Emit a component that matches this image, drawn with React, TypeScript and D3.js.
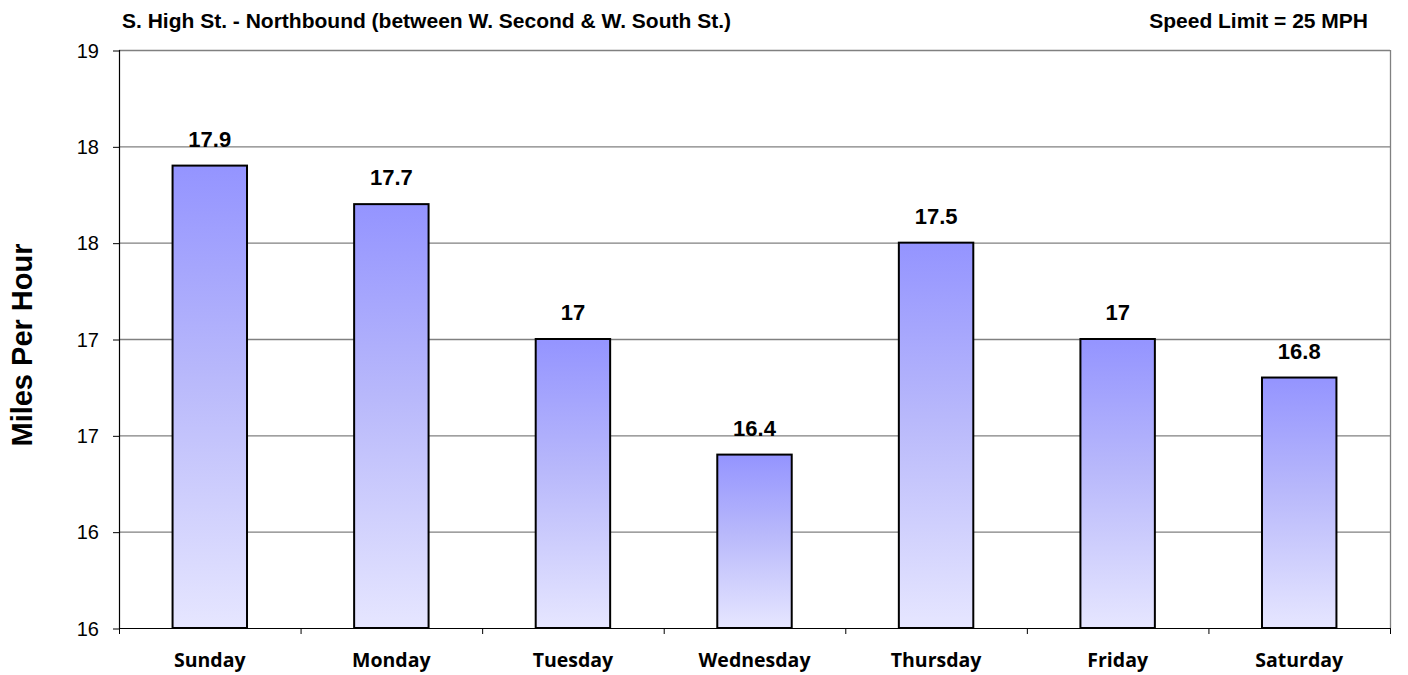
import React, { useEffect, useRef } from "react";
import * as d3 from "d3";

const days = ["Sunday", "Monday", "Tuesday", "Wednesday", "Thursday", "Friday", "Saturday"];
const speeds = [17.9, 17.7, 17, 16.4, 17.5, 17, 16.8];
const yTicks = [15.5, 16, 16.5, 17, 17.5, 18, 18.5];

const titleLeft = "S. High St. - Northbound (between W. Second & W. South St.)";
const titleRight = "Speed Limit = 25 MPH";
const yTitle = "Miles Per Hour";

const W = 1408;
const H = 675;

const App = () => {
  const svgRef = useRef<SVGSVGElement>(null);

  useEffect(() => {
    const margin = { top: 50, right: 18, bottom: 47, left: 119 };
    const width = W - margin.left - margin.right;
    const height = H - margin.top - margin.bottom;

    let svg = d3.select(svgRef.current);
    svg.selectAll("*").remove();

    const defs = svg.append("defs");
    const grad = defs
      .append("linearGradient")
      .attr("id", "barGrad")
      .attr("x1", 0)
      .attr("y1", 0)
      .attr("x2", 0)
      .attr("y2", 1);
    grad.append("stop").attr("offset", "0%").attr("stop-color", "#9494ff");
    grad.append("stop").attr("offset", "45%").attr("stop-color", "#b8b8fb");
    grad.append("stop").attr("offset", "100%").attr("stop-color", "#e6e6ff");

    svg
      .append("text")
      .attr("x", 122)
      .attr("y", 28)
      .style("font-family", "Liberation Sans, Arial, sans-serif")
      .style("font-size", "21px")
      .style("font-weight", "bold")
      .text(titleLeft);

    svg
      .append("text")
      .attr("x", 1368)
      .attr("y", 28)
      .attr("text-anchor", "end")
      .style("font-family", "Liberation Sans, Arial, sans-serif")
      .style("font-size", "21px")
      .style("font-weight", "bold")
      .text(titleRight);

    svg
      .append("text")
      .attr("transform", `translate(32, 345) rotate(-90)`)
      .attr("text-anchor", "middle")
      .style("font-family", "Liberation Sans, Arial, sans-serif")
      .style("font-size", "29px")
      .style("font-weight", "bold")
      .text(yTitle);

    const g = svg.append("g").attr("transform", `translate(${margin.left}, ${margin.top})`);

    const x = d3.scaleBand().domain(days).range([0, width]).paddingInner(0).paddingOuter(0);
    const y = d3.scaleLinear().domain([15.5, 18.5]).range([height, 0]);

    // gridlines
    g.selectAll(".grid")
      .data(yTicks.slice(1))
      .enter()
      .append("line")
      .attr("x1", 0)
      .attr("x2", width)
      .attr("y1", (d) => y(d) + 0.5)
      .attr("y2", (d) => y(d) + 0.5)
      .attr("stroke", "#808080")
      .attr("stroke-width", 1.3);

    // right border
    g.append("line")
      .attr("x1", width + 0.5)
      .attr("x2", width + 0.5)
      .attr("y1", 0)
      .attr("y2", height)
      .attr("stroke", "#808080")
      .attr("stroke-width", 1.3);

    const fmt = (v: number) => String(Math.floor(v + 0.5));

    const yAxis = g
      .append("g")
      .call(d3.axisLeft(y).tickValues(yTicks).tickSize(6).tickFormat((d) => fmt(d as number)));
    yAxis.select(".domain").remove();
    yAxis.selectAll("line").attr("stroke", "#000").attr("transform", "translate(0,0.5)");
    yAxis
      .selectAll("text")
      .attr("x", -20)
      .attr("dy", "0.36em")
      .style("font-family", "Liberation Sans, Arial, sans-serif")
      .style("font-size", "20px")
      .attr("fill", "#000");

    g.append("line")
      .attr("x1", 0.5)
      .attr("x2", 0.5)
      .attr("y1", 0)
      .attr("y2", height + 1)
      .attr("stroke", "#000")
      .attr("stroke-width", 1.2);

    const bw = x.bandwidth() * 0.41;

    g.selectAll(".bar")
      .data(speeds)
      .enter()
      .append("rect")
      .attr("class", "bar")
      .attr("x", (d, i) => x(days[i])! + x.bandwidth() / 2 - bw / 2)
      .attr("y", (d) => y(d))
      .attr("width", bw)
      .attr("height", (d) => height - y(d))
      .attr("fill", "url(#barGrad)")
      .attr("stroke", "#000")
      .attr("stroke-width", 2);

    g.selectAll(".bar-label")
      .data(speeds)
      .enter()
      .append("text")
      .attr("class", "bar-label")
      .attr("x", (d, i) => x(days[i])! + x.bandwidth() / 2)
      .attr("y", (d) => y(d) - 19)
      .attr("text-anchor", "middle")
      .style("font-family", "Liberation Sans, Arial, sans-serif")
      .style("font-size", "22px")
      .style("font-weight", "bold")
      .text((d) => String(d));

    // x axis
    g.append("line")
      .attr("x1", 0)
      .attr("x2", width)
      .attr("y1", height + 0.5)
      .attr("y2", height + 0.5)
      .attr("stroke", "#000")
      .attr("stroke-width", 1.2);

    g.selectAll(".xtick")
      .data(d3.range(days.length + 1))
      .enter()
      .append("line")
      .attr("x1", (i) => i * x.step() + 0.5)
      .attr("x2", (i) => i * x.step() + 0.5)
      .attr("y1", height)
      .attr("y2", height + 6)
      .attr("stroke", "#000");

    g.selectAll(".xlabel")
      .data(days)
      .enter()
      .append("text")
      .attr("x", (d) => x(d)! + x.bandwidth() / 2)
      .attr("y", height + 39)
      .attr("text-anchor", "middle")
      .style("font-family", "Open Sans, sans-serif")
      .style("font-size", "19.5px")
      .style("font-weight", "bold")
      .text((d) => d);
  }, []);

  return (
    <svg
      ref={svgRef}
      width={W}
      height={H}
      style={{ position: "absolute", left: 0, top: 0, background: "#fff" }}
    />
  );
};

export default App;
